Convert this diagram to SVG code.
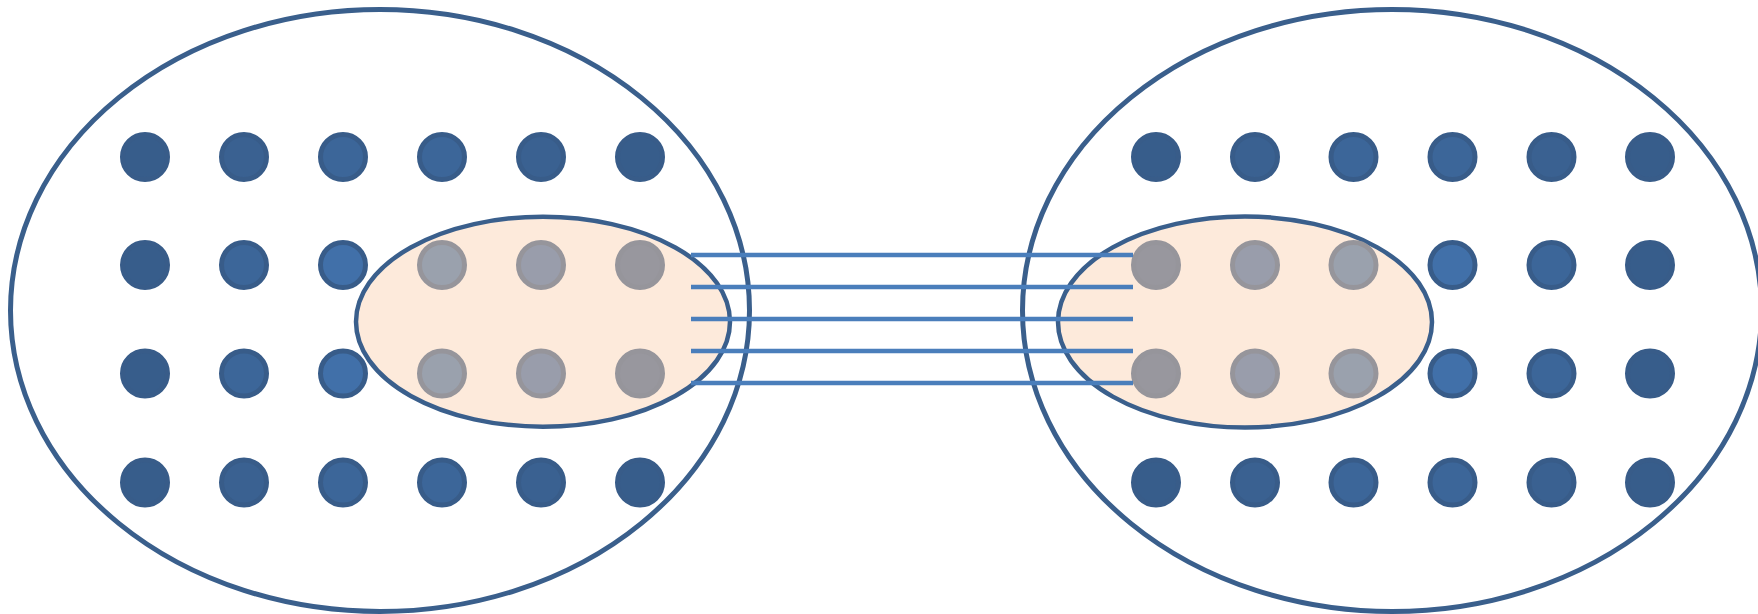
<svg xmlns="http://www.w3.org/2000/svg" width="1758" height="614" viewBox="0 0 1758 614">
<style>
.big{fill:none;stroke:#3a5f8c;stroke-width:5}
.sub{fill:#fdeadb;stroke:#3a5f8c;stroke-width:4.5}
.d{stroke:#385c89;stroke-width:5}
.d0{fill:#375d8b}
.d1{fill:#3a6191}
.d2{fill:#3c6699}
.d3{fill:#4170a9}
.g{stroke:#96959b;stroke-width:5}
.g0{fill:#98979e}
.g1{fill:#999dab}
.g2{fill:#9aa1ad}
.ln{stroke:#4a7ebb;stroke-width:4.5;fill:none}
</style>
<rect width="1758" height="614" fill="#ffffff"/>
<g id="left-set">
<ellipse class="big" cx="380" cy="310.5" rx="369.5" ry="301"/>
</g>
<g id="right-set">
<ellipse class="big" cx="1392" cy="310.5" rx="369.5" ry="301"/>
</g>
<g id="left-subset">
<ellipse class="sub" cx="543" cy="321.7" rx="187" ry="105"/>
</g>
<g id="right-subset">
<ellipse class="sub" cx="1245" cy="322" rx="187" ry="105.5"/>
</g>
<g id="left-dots">
<circle class="d d0" cx="145" cy="157" r="22.5"/>
<circle class="d d1" cx="244" cy="157" r="22.5"/>
<circle class="d d2" cx="343" cy="157" r="22.5"/>
<circle class="d d2" cx="442" cy="157" r="22.5"/>
<circle class="d d1" cx="541" cy="157" r="22.5"/>
<circle class="d d0" cx="640" cy="157" r="22.5"/>
<circle class="d d0" cx="145" cy="265" r="22.5"/>
<circle class="d d2" cx="244" cy="265" r="22.5"/>
<circle class="d d3" cx="343" cy="265" r="22.5"/>
<circle class="g g2" cx="442" cy="265" r="22.5"/>
<circle class="g g1" cx="541" cy="265" r="22.5"/>
<circle class="g g0" cx="640" cy="265" r="22.5"/>
<circle class="d d0" cx="145" cy="373.5" r="22.5"/>
<circle class="d d2" cx="244" cy="373.5" r="22.5"/>
<circle class="d d3" cx="343" cy="373.5" r="22.5"/>
<circle class="g g2" cx="442" cy="373.5" r="22.5"/>
<circle class="g g1" cx="541" cy="373.5" r="22.5"/>
<circle class="g g0" cx="640" cy="373.5" r="22.5"/>
<circle class="d d0" cx="145" cy="482.5" r="22.5"/>
<circle class="d d1" cx="244" cy="482.5" r="22.5"/>
<circle class="d d2" cx="343" cy="482.5" r="22.5"/>
<circle class="d d2" cx="442" cy="482.5" r="22.5"/>
<circle class="d d1" cx="541" cy="482.5" r="22.5"/>
<circle class="d d0" cx="640" cy="482.5" r="22.5"/>
</g>
<g id="right-dots">
<circle class="d d0" cx="1156" cy="157" r="22.5"/>
<circle class="d d1" cx="1255" cy="157" r="22.5"/>
<circle class="d d2" cx="1353.5" cy="157" r="22.5"/>
<circle class="d d2" cx="1452.5" cy="157" r="22.5"/>
<circle class="d d1" cx="1551.5" cy="157" r="22.5"/>
<circle class="d d0" cx="1650" cy="157" r="22.5"/>
<circle class="g g0" cx="1156" cy="265" r="22.5"/>
<circle class="g g1" cx="1255" cy="265" r="22.5"/>
<circle class="g g2" cx="1353.5" cy="265" r="22.5"/>
<circle class="d d3" cx="1452.5" cy="265" r="22.5"/>
<circle class="d d2" cx="1551.5" cy="265" r="22.5"/>
<circle class="d d0" cx="1650" cy="265" r="22.5"/>
<circle class="g g0" cx="1156" cy="373.5" r="22.5"/>
<circle class="g g1" cx="1255" cy="373.5" r="22.5"/>
<circle class="g g2" cx="1353.5" cy="373.5" r="22.5"/>
<circle class="d d3" cx="1452.5" cy="373.5" r="22.5"/>
<circle class="d d2" cx="1551.5" cy="373.5" r="22.5"/>
<circle class="d d0" cx="1650" cy="373.5" r="22.5"/>
<circle class="d d0" cx="1156" cy="482.5" r="22.5"/>
<circle class="d d1" cx="1255" cy="482.5" r="22.5"/>
<circle class="d d2" cx="1353.5" cy="482.5" r="22.5"/>
<circle class="d d2" cx="1452.5" cy="482.5" r="22.5"/>
<circle class="d d1" cx="1551.5" cy="482.5" r="22.5"/>
<circle class="d d0" cx="1650" cy="482.5" r="22.5"/>
</g>
<g id="connectors">
<line class="ln" x1="691" y1="255" x2="1133" y2="255"/>
<line class="ln" x1="691" y1="287" x2="1133" y2="287"/>
<line class="ln" x1="691" y1="319" x2="1133" y2="319"/>
<line class="ln" x1="691" y1="351" x2="1133" y2="351"/>
<line class="ln" x1="691" y1="383" x2="1133" y2="383"/>
</g>
</svg>
